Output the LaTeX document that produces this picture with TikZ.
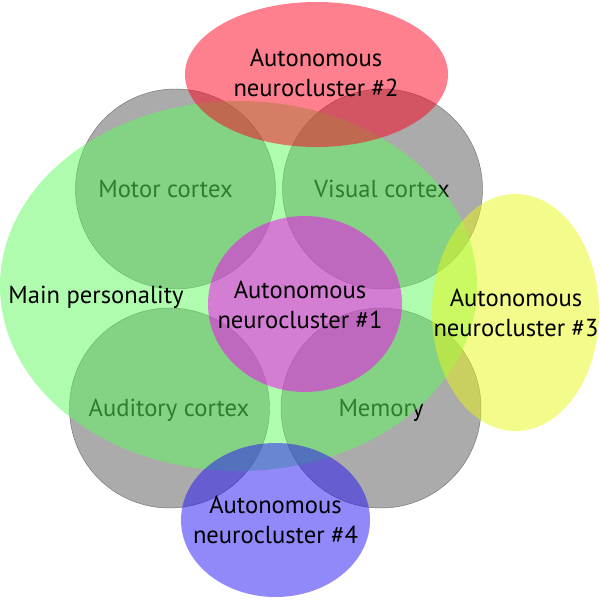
\documentclass[tikz,border=0pt]{standalone}
\usepackage{fontspec}
\setmainfont{PT Sans}
\definecolor{lobegray}{RGB}{87,87,87}
\definecolor{persgreen}{RGB}{95,249,95}
\definecolor{clusterred}{RGB}{253,0,29}
\definecolor{clustermagenta}{RGB}{249,0,249}
\definecolor{clusteryellow}{RGB}{231,247,21}
\definecolor{clusterblue}{RGB}{35,17,245}
\begin{document}
\begin{tikzpicture}[x=0.3mm, y=-0.3mm,
    lobe/.style={fill=lobegray, fill opacity=0.5, draw=black!55, line width=0.4pt},
    blob/.style={fill opacity=0.5},
    lbl/.style={font=\fontsize{21}{25.6}\selectfont, align=center}]
  \useasboundingbox (0,0) rectangle (600,599);

  % brain regions
  \foreach \cx/\cy in {175.5/189, 382.5/189, 169.5/408, 381/408}
    \filldraw[lobe] (\cx,\cy) circle [radius=100];
  \node[lbl, anchor=base] (motor) at (165.5,197) {Motor cortex};
  \node[lbl, anchor=base] (visual) at (382,197) {Visual cortex};
  \node[lbl, anchor=base] (auditory) at (169,416) {Auditory cortex};
  \node[lbl, anchor=base] (memory) at (381,416) {Memory};

  % main personality
  \fill[blob, persgreen] (238.5,286) ellipse [x radius=238.5, y radius=185];
  \node[lbl, anchor=base] (main) at (96,303) {Main personality};

  % autonomous neuroclusters
  \fill[blob, clustermagenta] (305,304) ellipse [x radius=97, y radius=88];
  \node[lbl] (nc1) at (300,305) {Autonomous\\neurocluster \#1};
  \fill[blob, clusterred] (316.5,74.5) ellipse [x radius=131.5, y radius=72.5];
  \node[lbl] (nc2) at (316,72.5) {Autonomous\\neurocluster \#2};
  \fill[blob, clusteryellow] (515.5,312.5) ellipse [x radius=83.5, y radius=118.5];
  \node[lbl] (nc3) at (516,312.5) {Autonomous\\neurocluster \#3};
  \fill[blob, clusterblue] (275.5,520) ellipse [x radius=94.5, y radius=77];
  \node[lbl] (nc4) at (275.5,519.5) {Autonomous\\neurocluster \#4};
\end{tikzpicture}
\end{document}
